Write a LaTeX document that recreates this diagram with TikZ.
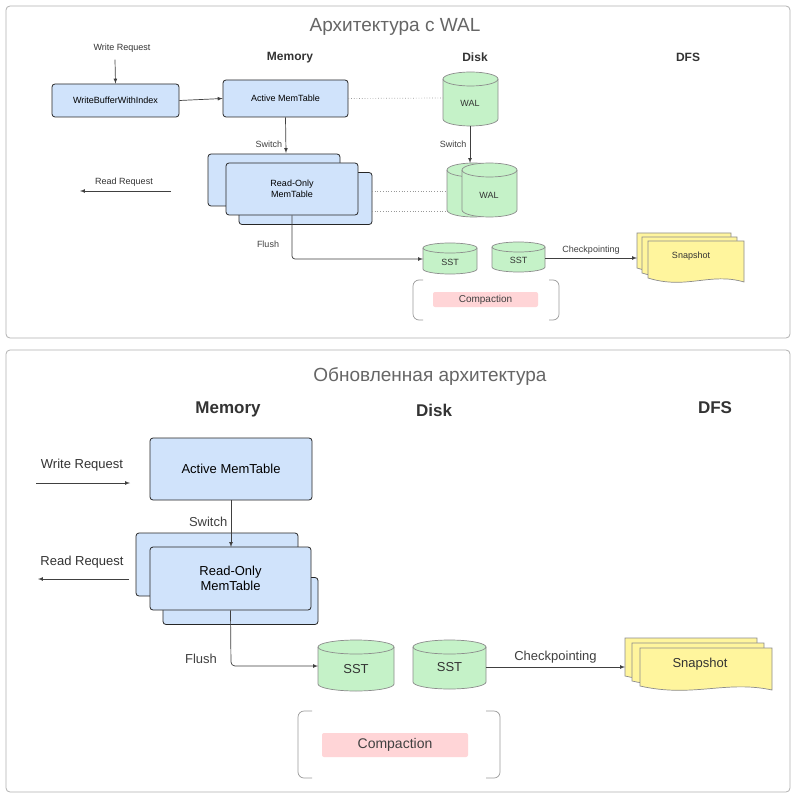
\documentclass[tikz,border=0pt]{standalone}
\usepackage{fontspec}
\setmainfont{Liberation Sans}
\begin{document}
\begin{tikzpicture}[x=1pt,y=-1pt,
 panel/.style={draw=black!30,rounded corners=4pt,line width=0.8pt},
 title/.style={text=black!60,font=\fontsize{19}{22}\selectfont},
 mem/.style={draw=black!85,fill=blue!18!cyan!8!white,fill=memc,rounded corners=3pt,line width=0.8pt},
 cylst/.style={draw=black!45,fill=greenc,line width=0.7pt},
 docst/.style={draw=black!45,fill=yellowc,line width=0.7pt},
 arr/.style={draw=black!75,line width=0.7pt,-latex},
 dot/.style={draw=black!40,dotted,line width=0.7pt},
 brk/.style={draw=black!40,rounded corners=6pt,line width=0.7pt},
 lab/.style={text=black!75},
 hd/.style={font=\bfseries,text=black!80},
 s/.style={font=\fontsize{9}{11}\selectfont},
 b/.style={font=\fontsize{13}{15}\selectfont},
]
\definecolor{memc}{HTML}{D0E3FB}
\definecolor{greenc}{HTML}{C5F2C8}
\definecolor{yellowc}{HTML}{FFF59D}
\definecolor{pinkc}{HTML}{FFD5D7}
\newcommand\mycyl[6]{%
 \filldraw[cylst] (#1,#2+#6) -- (#1,#4-#6) arc[start angle=180,end angle=0,x radius=#5,y radius=#6] -- (#3,#2+#6) arc[start angle=0,end angle=-180,x radius=#5,y radius=#6] -- cycle;
 \draw[cylst,fill=none] (#1,#2+#6) arc[start angle=180,end angle=0,x radius=#5,y radius=#6];}
\newcommand\mydoc[4]{%
 \filldraw[docst] (#1,#4-4) -- (#1,#2) -- (#3,#2) -- (#3,#4) .. controls ({#3-0.35*(#3-#1)},{#4-10}) and ({#1+0.4*(#3-#1)},{#4+8}) .. (#1,#4-4) -- cycle;}
\useasboundingbox (0,0) rectangle (796,799);
\fill[white] (0,0) rectangle (796,799);
% ===== top panel =====
\draw[panel] (6,6) rectangle (790,338);
\node[title] (t1) at (395,27) {Архитектура с WAL};
\node[hd,font=\bfseries\fontsize{12}{14}\selectfont] (m1) at (290,58) {Memory};
\node[hd,font=\bfseries\fontsize{12}{14}\selectfont] (d1) at (475,57) {Disk};
\node[hd,font=\bfseries\fontsize{12}{14}\selectfont] (f1) at (688,57) {DFS};
\node[hd,s] (wr1) at (122,48) {Write Request};
\node[mem,minimum width=127,minimum height=33,inner sep=0,hd,s,text=black] (wb) at (115.5,100.5) {WriteBufferWithIndex};
\node[mem,minimum width=125,minimum height=37,inner sep=0,hd,s,text=black] (am1) at (285.5,98.5) {Active MemTable};
\draw[arr] (wr1.south) ++(-7,4) coordinate (wa) -- (wb.north);
\draw[arr] (wb.east) -- (am1.west);
\node[mem,minimum width=132,minimum height=52,inner sep=0] (ro1a) at (274,180) {};
\node[mem,minimum width=133,minimum height=52,inner sep=0] (ro1c) at (305.5,198.5) {};
\node[mem,minimum width=132,minimum height=52,inner sep=0,hd,s,text=black,align=center] (ro1) at (292,189) {Read-Only\\MemTable};
\draw[arr] (am1.south) -- node[lab,s,left,pos=0.75] {Switch} (286,153);
\node[hd,s] (rr1) at (124,182) {Read Request};
\coordinate (rra1) at (171,191);
\draw[arr] (rra1) -- (80,191);
% WAL
\mycyl{443}{72}{498}{126}{27.5}{7}
\node[hd,s] (wal1) at (470,103) {WAL};
\mycyl{447}{163}{500}{217}{26.5}{7}
\mycyl{462}{163}{517}{217}{27.5}{7}
\node[hd,s] (wal2) at (489,195) {WAL};
\draw[arr] (470,126) -- node[lab,s,left,pos=0.5] {Switch} (470,163);
\draw[dot] (am1.east) -- (443,98);
\draw[dot] (372,191) -- (447,191);
\draw[dot] (372,211) -- (447,211);
% SST
\mycyl{423}{243}{477}{274}{27}{5}
\node[hd,s] (sst1) at (450,262) {SST};
\mycyl{492}{242}{545}{272}{26.5}{5}
\node[hd,s] (sst2) at (518.5,260) {SST};
\draw[arr,rounded corners=3pt] (ro1.south) -- (292,259) -- (423,259);
\node[lab,s] at (268,244) {Flush};
\mydoc{637}{233}{731}{272}
\mydoc{642}{237}{737}{277}
\mydoc{648}{241}{744}{282}
\node[hd,s] (snap1) at (691,256) {Snapshot};
\draw[arr] (545,258) -- node[lab,s,above,pos=0.5] {Checkpointing} (637,258);
\draw[brk] (423,280) -- (413,280) -- (413,320) -- (423,320);
\draw[brk] (549,280) -- (559,280) -- (559,320) -- (549,320);
\node[fill=pinkc,rounded corners=2pt,minimum width=105,minimum height=15,inner sep=0,lab,font=\fontsize{10}{12}\selectfont] (cp1) at (485.5,299.5) {Compaction};
% ===== bottom panel =====
\draw[panel] (6,350) rectangle (790,792);
\node[title] (t2) at (430,377) {Обновленная архитектура};
\node[hd,font=\bfseries\fontsize{17}{20}\selectfont] (m2) at (228,409) {Memory};
\node[hd,font=\bfseries\fontsize{17}{20}\selectfont] (d2) at (434,410) {Disk};
\node[hd,font=\bfseries\fontsize{17}{20}\selectfont] (f2) at (715,408) {DFS};
\node[hd,b] (wr2) at (82,465) {Write Request};
\coordinate (wra2) at (36,483);
\coordinate (wrb2) at (130,483);
\draw[arr] (wra2) -- (wrb2);
\node[mem,minimum width=162,minimum height=62,inner sep=0,hd,b,text=black] (am2) at (231,469) {Active MemTable};
\node[mem,minimum width=162,minimum height=63,inner sep=0] (ro2a) at (217,564.5) {};
\node[mem,minimum width=155,minimum height=47,inner sep=0] (ro2c) at (240.5,601) {};
\node[mem,minimum width=161,minimum height=63,inner sep=0,hd,b,text=black,align=center] (ro2) at (230.5,578.5) {Read-Only\\MemTable};
\draw[arr] (am2.south) -- node[lab,b,left,pos=0.45] {Switch} (231,547);
\node[hd,b] (rr2) at (82,562) {Read Request};
\coordinate (rra2) at (129,579);
\draw[arr] (rra2) -- (38,579);
\mycyl{318}{640}{394}{691}{38}{7}
\node[hd,b] (sst3) at (356,669) {SST};
\mycyl{413}{640}{486}{689}{36.5}{7}
\node[hd,b] (sst4) at (449.5,667) {SST};
\draw[arr,rounded corners=4pt] (ro2.south) -- (231,666) -- (318,666);
\node[lab,b] at (201,659) {Flush};
\mydoc{625}{638}{757}{680}
\mydoc{632}{643}{764}{685}
\mydoc{640}{648}{772}{690}
\node[hd,b] (snap2) at (700,664) {Snapshot};
\draw[arr] (486,667) -- node[lab,b,above,pos=0.5] {Checkpointing} (625,667);
\draw[brk] (312,711) -- (298,711) -- (298,778) -- (312,778);
\draw[brk] (486,711) -- (500,711) -- (500,778) -- (486,778);
\node[fill=pinkc,rounded corners=2pt,minimum width=146,minimum height=24,inner sep=0,lab,font=\fontsize{14}{16}\selectfont] (cp2) at (395,745) {Compaction};
\end{tikzpicture}
\end{document}
